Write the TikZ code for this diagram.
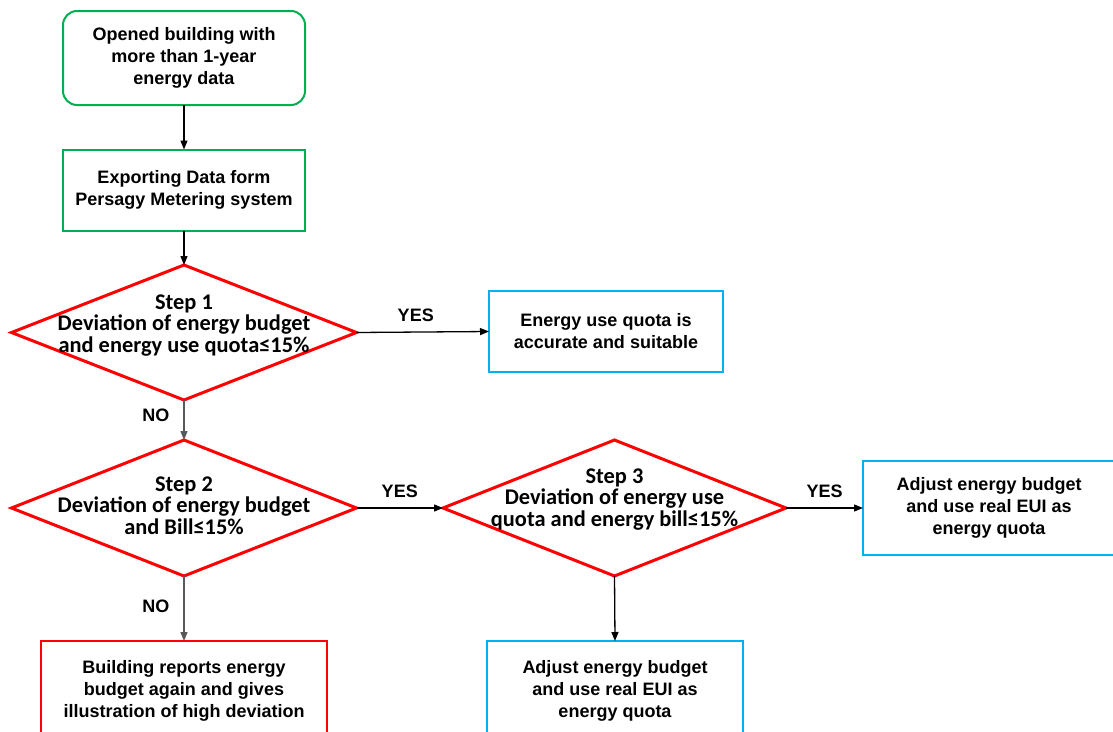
\documentclass[tikz,border=0pt]{standalone}
\usepackage{fontspec}
\setmainfont{Liberation Sans}
\newfontfamily\dfont{Carlito}
\usetikzlibrary{shapes.geometric,arrows.meta}
\definecolor{gr}{RGB}{0,176,80}
\definecolor{bl}{RGB}{0,176,240}
\definecolor{rd}{RGB}{255,0,0}
\tikzset{
  box/.style={draw, line width=2pt, align=center, font=\bfseries\fontsize{18}{22}\selectfont, inner sep=0pt, outer sep=0pt},
  greenbox/.style={box, draw=gr},
  startbox/.style={box, draw=gr, rounded corners=14pt},
  bluebox/.style={box, draw=bl},
  redbox/.style={box, draw=rd},
  dia/.style={diamond, draw=rd, line width=3pt, minimum width=345pt, minimum height=135pt, inner sep=0pt, outer sep=0pt},
  dtext/.style={align=center, font=\dfont\bfseries\fontsize{22.4}{21.5}\selectfont, inner sep=0pt},
  arr/.style={-{Triangle[length=9pt,width=7pt]}, line width=1.3pt, draw=black},
  narr/.style={arr, draw=black!65},
  lbl/.style={font=\bfseries\fontsize{18}{20}\selectfont, inner sep=0pt}
}
\begin{document}
\begin{tikzpicture}[x=1pt,y=-1pt]
\useasboundingbox (0,0) rectangle (1113,731);
\clip (0,0) rectangle (1113,731);
\fill[white] (0,0) rectangle (1113,731);

\node[startbox, minimum width=242pt, minimum height=94pt] (start) at (184,58) {Opened building with\\more than 1-year\\energy data};
\node[greenbox, minimum width=242pt, minimum height=81pt] (exp) at (184,190) {Exporting Data form\\Persagy Metering system};

\node[dia] (d1) at (184,332.5) {};
\node[dtext] (t1) at (184,325.5) {Step 1\\Deviation of energy budget\\and energy use quota≤15\%};

\node[bluebox, minimum width=234pt, minimum height=81pt] (q1) at (606,331.5) {Energy use quota is\\accurate and suitable};

\node[dia, minimum width=345pt, minimum height=136pt] (d2) at (184,508) {};
\node[dtext] (t2) at (184,505.5) {Step 2\\Deviation of energy budget\\and Bill≤15\%};

\node[dia, minimum width=343pt, minimum height=136pt] (d3) at (614.5,508) {};
\node[dtext] (t3) at (614.5,499.5) {Step 3\\Deviation of energy use\\quota and energy bill≤15\%};

\node[bluebox, minimum width=252pt, minimum height=94pt] (r3) at (989,508) {Adjust energy budget\\and use real EUI as\\energy quota};

\node[redbox, minimum width=286pt, minimum height=100pt] (rep) at (184,691) {Building reports energy\\budget again and gives\\illustration of high deviation};
\node[bluebox, minimum width=256pt, minimum height=100pt] (b3) at (615,691) {Adjust energy budget\\and use real EUI as\\energy quota};

\draw[arr] (start) -- (exp);
\draw[arr] (exp) -- (d1);
\draw[arr] (d1.east) -- (q1.west) node[lbl, midway, above=10pt, xshift=-7pt] {YES};
\draw[narr] (d1.south) -- (d2.north) node[lbl, midway, left=14pt, yshift=5pt] {NO};
\draw[arr] (d2.east) -- (d3.west) node[lbl, midway, above=10pt] {YES};
\draw[arr] (d3.east) -- (r3.west) node[lbl, midway, above=10pt] {YES};
\draw[narr] (d2.south) -- (rep.north) node[lbl, midway, left=14pt, yshift=2pt] {NO};
\draw[arr] (d3.south) -- (b3.north);
\end{tikzpicture}
\end{document}
